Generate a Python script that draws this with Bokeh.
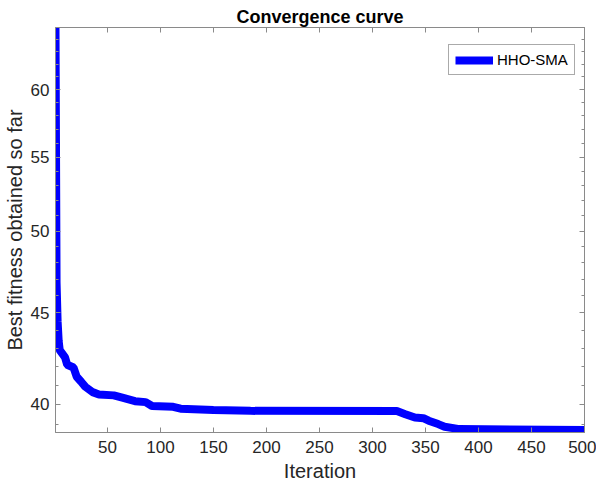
from bokeh.plotting import figure
from bokeh.models import Range1d, FixedTicker, LinearAxis, LogAxis, PrintfTickFormatter
from bokeh.embed import file_html
from bokeh.resources import INLINE

# Data
iteration = [1, 2, 3, 4, 5, 10, 12, 18, 21, 25, 29, 36, 42, 56, 64, 76, 86, 92,
             112, 119, 150, 185, 323, 331, 340, 348, 353, 362, 368, 382, 500]
best_fitness = [65.0, 46.8, 44.5, 43.4, 42.9, 42.5, 42.1, 41.95, 41.45, 41.2, 40.93,
                40.64, 40.52, 40.47, 40.35, 40.17, 40.12, 39.92, 39.88, 39.78, 39.72,
                39.67, 39.66, 39.5, 39.33, 39.3, 39.17, 39.0, 38.87, 38.75, 38.7]
series_name = "HHO-SMA"

x_ticks = [50, 100, 150, 200, 250, 300, 350, 400, 450, 500]
y_ticks = [40, 45, 50, 55, 60]
y_minor = [v for v in range(39, 65) if v not in y_ticks]

FONT = "Liberation Sans"
AX = "#8a8a8a"
TXT = "#262626"

p = figure(frame_width=529, frame_height=405, output_backend="svg",
           toolbar_location=None, y_axis_type="log",
           x_range=Range1d(1, 500), y_range=Range1d(38.58, 65.0),
           min_border_left=52, min_border_right=12, min_border_top=27,
           min_border_bottom=30)

p.title.text = "Convergence curve"
p.title.align = "center"
p.title.text_font = FONT
p.title.text_font_size = "18px"
p.title.text_font_style = "bold"
p.title.text_color = "#000000"
p.title.standoff = 2

p.xgrid.visible = False
p.ygrid.visible = False
p.outline_line_color = AX
p.background_fill_color = "white"
p.border_fill_color = "white"

xt = FixedTicker(ticks=x_ticks)
yt = FixedTicker(ticks=y_ticks, minor_ticks=y_minor)

def style(ax, labels=True):
    ax.axis_line_color = AX
    ax.major_tick_line_color = AX
    ax.minor_tick_line_color = AX
    ax.major_tick_in = 5
    ax.major_tick_out = 0
    ax.minor_tick_in = 3
    ax.minor_tick_out = 0
    ax.major_label_text_font = FONT
    ax.axis_label_text_font = FONT
    ax.axis_label_text_color = TXT
    ax.axis_label_text_font_style = "normal"
    if labels:
        ax.major_label_text_color = TXT
        ax.major_label_text_font_size = "17px"
        ax.axis_label_text_font_size = "20px"
    else:
        ax.major_label_text_color = None
        ax.major_label_text_font_size = "1px"
        ax.major_label_standoff = 0

xa = p.xaxis[0]
xa.ticker = xt
xa.axis_label = "Iteration"
style(xa)
xa.minor_tick_line_color = None
xa.major_label_standoff = 8
xa.axis_label_standoff = 4

ya = p.yaxis[0]
ya.ticker = yt
ya.formatter = PrintfTickFormatter(format="%d")
ya.axis_label = "Best fitness obtained so far"
style(ya)
ya.major_label_standoff = 6
ya.axis_label_standoff = 2

top = LinearAxis(ticker=xt)
style(top, labels=False)
top.minor_tick_line_color = None
p.add_layout(top, "above")

right = LogAxis(ticker=yt)
style(right, labels=False)
p.add_layout(right, "right")

p.line(iteration, best_fitness, line_color="#0000ff", line_width=8,
       legend_label=series_name)

lg = p.legend[0]
lg.location = (393, 357)
lg.margin = 0
lg.padding = 6
lg.glyph_width = 38
lg.glyph_height = 16
lg.label_standoff = 4
lg.label_text_font = FONT
lg.label_text_font_size = "15px"
lg.label_text_color = "#000000"
lg.border_line_color = "#555555"
lg.border_line_width = 1
lg.background_fill_alpha = 1.0

open("out.html", "w").write(file_html(p, INLINE))
